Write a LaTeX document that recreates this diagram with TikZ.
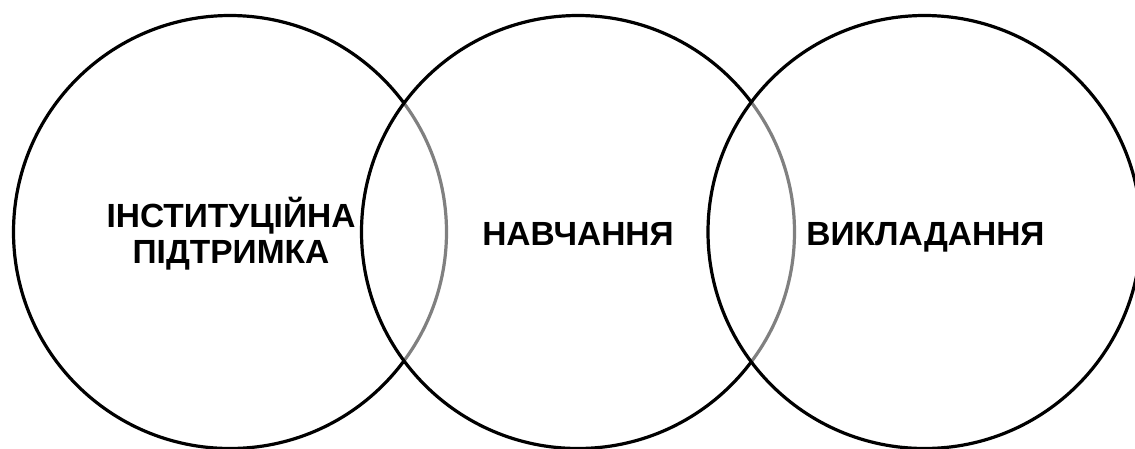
\documentclass[tikz,border=0pt]{standalone}
\usepackage{fontspec}
\setmainfont{Liberation Sans}
\begin{document}
\begin{tikzpicture}[x=1pt,y=-1pt,
  ring/.style={circle,draw=black,line width=3.2pt,fill=white,fill opacity=0.5,draw opacity=1,minimum size=433pt,inner sep=0pt},
  label/.style={font=\fontsize{33.5}{36}\selectfont\bfseries,align=center,text=black,inner sep=0pt,anchor=base}]
\useasboundingbox (0,0) rectangle (1135,448);
\node[ring] (c1) at (230,232) {};
\node[ring] (c2) at (578,232) {};
\node[ring] (c3) at (924.5,232) {};
\node[label] (t1) at (231,263) {ІНСТИТУЦІЙНА\\ПІДТРИМКА};
\node[label] (t2) at (578,245) {НАВЧАННЯ};
\node[label] (t3) at (925.5,245) {ВИКЛАДАННЯ};
\end{tikzpicture}
\end{document}
